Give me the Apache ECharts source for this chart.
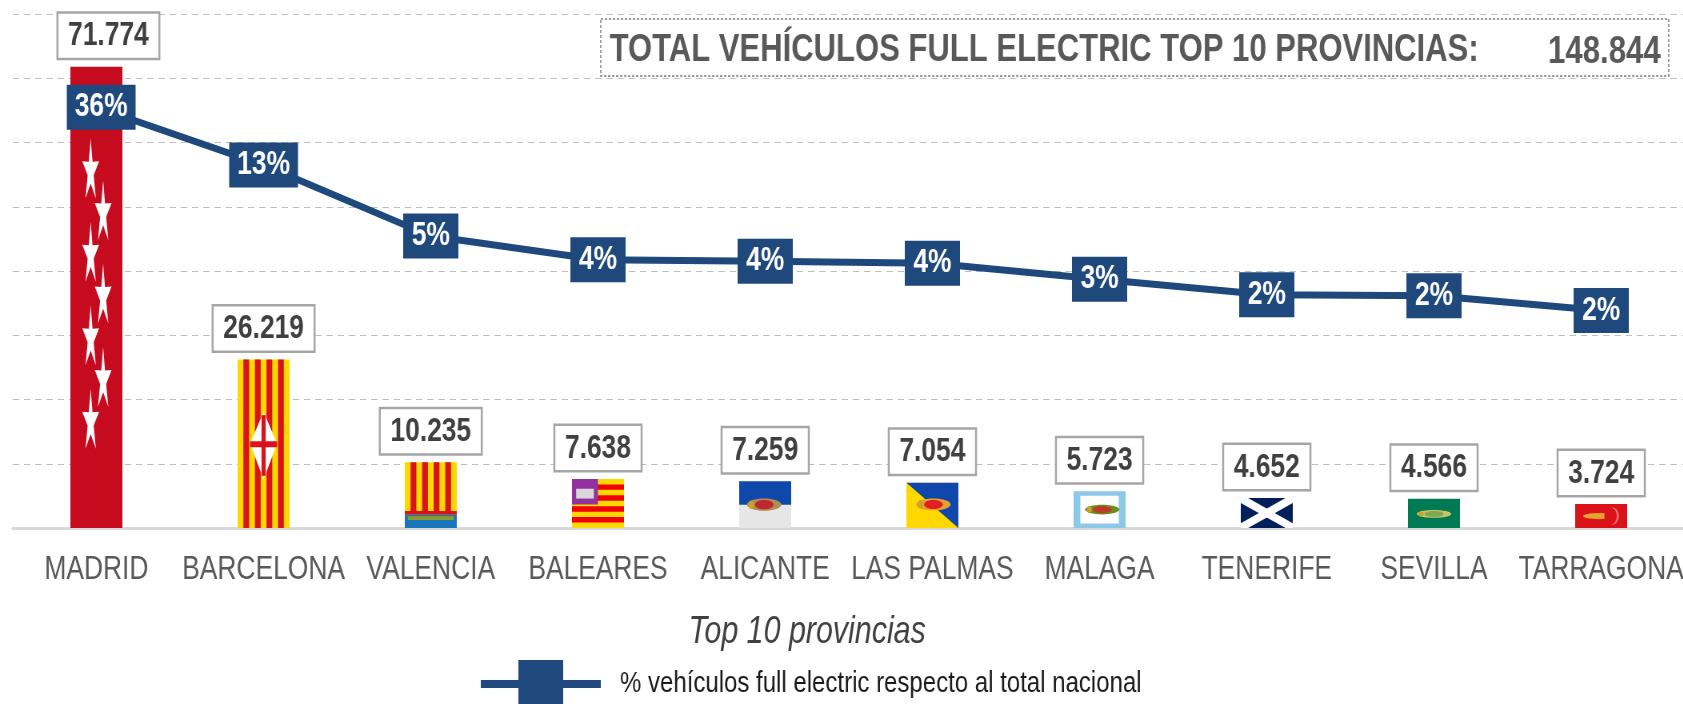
<!DOCTYPE html>
<html>
<head>
<meta charset="utf-8">
<title>Top 10 provincias</title>
<script src="https://cdn.jsdelivr.net/npm/echarts@6/dist/echarts.min.js"></script>
<style>
  html, body { margin: 0; padding: 0; background: #fff; overflow: hidden; }
  /* no narrow font available: draw 25% wider and squeeze, so all x sizes below are 1.25x the picture */
  #chart { width: 2104px; height: 704px; transform: scaleX(0.8); transform-origin: 0 0; }
</style>
</head>
<body>
<div id="chart"></div>
<script>
const categories = ['MADRID', 'BARCELONA', 'VALENCIA', 'BALEARES', 'ALICANTE', 'LAS PALMAS', 'MALAGA', 'TENERIFE', 'SEVILLA', 'TARRAGONA']
const vehicles = [71774, 26219, 10235, 7638, 7259, 7054, 5723, 4652, 4566, 3724]
const percentLabels = ['36%', '13%', '5%', '4%', '4%', '4%', '3%', '2%', '2%', '2%']
// the drawn line does not follow its labels, so its height is read off the picture (hidden 0-100 axis)
const lineLevels = [81.85, 70.6, 56.8, 52.2, 51.9, 51.5, 48.4, 45.4, 45.2, 42.3]
const totalLabel = 'TOTAL VEHÍCULOS FULL ELECTRIC TOP 10 PROVINCIAS:'
const totalValue = '148.844'

const FONT = '"Liberation Sans", Arial, sans-serif'
const BLUE = '#1F497D'
const fmt = (v) => String(v).replace(/\B(?=(\d{3})+$)/g, '.')

// flag drawing, everything in 0-1 units of the bar
const rect = (x, y, w, h, fill) => ({ type: 'rect', shape: { x, y, width: w, height: h }, style: { fill } })
const poly = (points, fill) => ({ type: 'polygon', shape: { points }, style: { fill } })
const oval = (cx, cy, rx, ry, fill) => ({ type: 'ellipse', shape: { cx, cy, rx, ry }, style: { fill } })
const vStripes = (n, fill, h = 1) => {
  const out = []
  for (let i = 1; i < n; i += 2) out.push(rect(i / n, 0, 1 / n, h, fill))
  return out
}
const star = (cx, cy, rx, ry) => {
  const pts = []
  for (let i = 0; i < 10; i++) {
    const r = i % 2 ? 0.36 : 1
    const a = -Math.PI / 2 + (i * Math.PI) / 5
    pts.push([cx + rx * r * Math.cos(a), cy + ry * r * Math.sin(a)])
  }
  return poly(pts, '#fff')
}
const emblem = (cx, cy, main, side) => [
  oval(cx, cy, 0.33, 0.13, side),
  oval(cx, cy, 0.18, 0.1, main),
  oval(cx - 0.25, cy, 0.05, 0.09, '#C9A227'),
]

const flags = {
  MADRID: { base: '#C60B1E', parts: () => {
    const out = []
    for (let i = 0; i < 7; i++) out.push(star(i % 2 ? 0.63 : 0.39, 0.227 + i * 0.0905, 0.17, 0.072))
    return out
  } },
  BARCELONA: { base: '#FFD800', parts: () => [
    ...vStripes(9, '#DA121A'),
    poly([[0.5, 0.31], [0.76, 0.5], [0.5, 0.71], [0.24, 0.5]], '#fff'),
    rect(0.24, 0.485, 0.52, 0.035, '#DA121A'),
    rect(0.46, 0.33, 0.08, 0.36, '#DA121A'),
  ] },
  VALENCIA: { base: '#FFD800', parts: () => [
    ...vStripes(9, '#DA121A', 0.78),
    rect(0, 0.74, 1, 0.06, '#DA121A'),
    rect(0, 0.8, 1, 0.2, '#1B75BB'),
    rect(0.06, 0.82, 0.88, 0.06, '#8C9A2B'),
  ] },
  BALEARES: { base: '#FFD800', parts: () => {
    const out = []
    for (let i = 1; i < 9; i += 2) out.push(rect(0, i / 9, 1, 1 / 9, '#F00000'))
    out.push(rect(0, 0, 0.5, 0.52, '#93329E'))
    out.push(rect(0.08, 0.2, 0.34, 0.2, '#D8D8D8'))
    return out
  } },
  ALICANTE: { base: '#E6E6E6', parts: () => [rect(0, 0, 1, 0.5, '#1047AB'), ...emblem(0.48, 0.5, '#C0272D', '#B08D57')] },
  'LAS PALMAS': { base: '#FFD800', parts: () => [poly([[0, 0], [1, 0], [1, 1]], '#1047AB'), ...emblem(0.52, 0.48, '#E02020', '#E8A030')] },
  MALAGA: { base: '#8CC8E8', parts: () => [rect(0.13, 0.12, 0.74, 0.76, '#fff'), ...emblem(0.55, 0.5, '#C0392B', '#6B8E23')] },
  TENERIFE: { base: '#001F5B', parts: () => [
    poly([[0, 0], [0.14, 0], [1, 0.84], [1, 1], [0.86, 1], [0, 0.16]], '#fff'),
    poly([[1, 0], [0.86, 0], [0, 0.84], [0, 1], [0.14, 1], [1, 0.16]], '#fff'),
  ] },
  SEVILLA: { base: '#007A53', parts: () => emblem(0.5, 0.52, '#7FA650', '#C9C26A') },
  TARRAGONA: { base: '#DA121A', parts: () => [
    oval(0.45, 0.5, 0.3, 0.13, '#E8A030'),
    oval(0.72, 0.5, 0.12, 0.36, '#F07070'),
    oval(0.68, 0.5, 0.12, 0.36, '#DA121A'),
  ] },
}

const BAR = 65

const options = {
  animation: false,
  // labels run up to the page edge, keep echarts from shrinking the grid for them
  grid: { left: 16, right: -2, top: 14, bottom: 176, outerBoundsMode: 'none' },
  legend: {
    data: ['% vehículos full electric respecto al total nacional'],
    left: 592,
    top: 659,
    itemWidth: 150,
    itemHeight: 50,
    lineStyle: { width: 8 },
    textStyle: { fontFamily: FONT, fontSize: 30, color: '#1a1a1a', padding: [0, 0, 0, 19] },
  },
  title: {
    text: 'Top 10 provincias',
    left: 1009,
    textAlign: 'center',
    top: 613,
    padding: 0,
    textStyle: { fontFamily: FONT, fontSize: 38, fontStyle: 'italic', fontWeight: 'normal', color: '#404040' },
  },
  xAxis: {
    type: 'category',
    data: categories,
    axisTick: { show: false },
    axisLine: { lineStyle: { color: '#D9D9D9', width: 3 } },
    axisLabel: { interval: 0, hideOverlap: false, margin: 25, fontFamily: FONT, fontSize: 33, color: '#595959' },
  },
  yAxis: [
    {
      type: 'value',
      min: 0,
      max: 80000,
      interval: 10000,
      axisLabel: { show: false },
      axisLine: { show: false },
      axisTick: { show: false },
      splitLine: { lineStyle: { color: '#BFBFBF', type: [8, 6], width: 1 } },
    },
    { type: 'value', min: 0, max: 100, show: false, splitLine: { show: false } },
  ],
  series: [
    {
      type: 'bar',
      barWidth: BAR,
      z: 2,
      data: vehicles.map((v, i) => ({
        value: v,
        itemStyle: { color: flags[categories[i]].base },
        label: i === 0 ? { offset: [15, 0] } : {},
      })),
      label: {
        show: true,
        position: 'top',
        distance: 9,
        formatter: (p) => fmt(p.value),
        fontFamily: FONT,
        fontWeight: 'bold',
        fontSize: 33,
        color: '#404040',
        backgroundColor: '#fff',
        borderColor: '#A6A6A6',
        borderWidth: 2.5,
        padding: [6, 12, 5, 12],
      },
    },
    {
      type: 'custom',
      z: 3,
      silent: true,
      encode: { x: 0, y: 1 },
      data: vehicles.map((v, i) => [i, v]),
      renderItem: (params, api) => {
        const top = api.coord([api.value(0), api.value(1)])
        const base = api.coord([api.value(0), 0])
        const h = base[1] - top[1]
        const X = (x) => top[0] - BAR / 2 + x * BAR
        const Y = (y) => top[1] + y * h
        const scaled = (el) => {
          const s = el.shape
          const shape = { ...s }
          if (el.type === 'rect') { shape.x = X(s.x); shape.y = Y(s.y); shape.width = s.width * BAR; shape.height = s.height * h }
          if (el.type === 'polygon') shape.points = s.points.map((p) => [X(p[0]), Y(p[1])])
          if (el.type === 'ellipse') { shape.cx = X(s.cx); shape.cy = Y(s.cy); shape.rx = s.rx * BAR; shape.ry = s.ry * h }
          return { ...el, shape }
        }
        return { type: 'group', children: flags[categories[api.value(0)]].parts().map(scaled) }
      },
    },
    {
      name: '% vehículos full electric respecto al total nacional',
      type: 'line',
      yAxisIndex: 1,
      z: 5,
      data: lineLevels.map((v, i) => (i === 0 ? { value: v, symbolOffset: [6, 0] } : v)),
      symbol: 'rect',
      symbolSize: (v, p) => [percentLabels[p.dataIndex].length > 2 ? 86 : 69, 45],
      itemStyle: { color: BLUE },
      lineStyle: { color: BLUE, width: 7 },
      label: {
        show: true,
        position: 'inside',
        formatter: (p) => percentLabels[p.dataIndex],
        fontFamily: FONT,
        fontWeight: 'bold',
        fontSize: 33,
        color: '#fff',
      },
    },
  ],
  graphic: [
    {
      type: 'rect',
      shape: { x: 751, y: 19, width: 1335, height: 57 },
      style: { fill: '#fff', stroke: '#7F7F7F', lineWidth: 1.5, lineDash: [3, 2] },
      z: 10,
    },
    {
      type: 'text',
      x: 762,
      y: 50,
      z: 11,
      style: { text: totalLabel, fontFamily: FONT, fontWeight: 'bold', fontSize: 38.8, fill: '#595959', verticalAlign: 'middle' },
    },
    {
      type: 'text',
      x: 2076,
      y: 52,
      z: 11,
      style: { text: totalValue, fontFamily: FONT, fontWeight: 'bold', fontSize: 39, fill: '#595959', align: 'right', verticalAlign: 'middle' },
    },
    // legend marker is wider than the square the legend draws
    { type: 'rect', shape: { x: 648, y: 660, width: 56, height: 44 }, style: { fill: BLUE }, z: 10 },
  ],
}

const chart = echarts.init(document.getElementById('chart'))
chart.setOption(options)
</script>
</body>
</html>
